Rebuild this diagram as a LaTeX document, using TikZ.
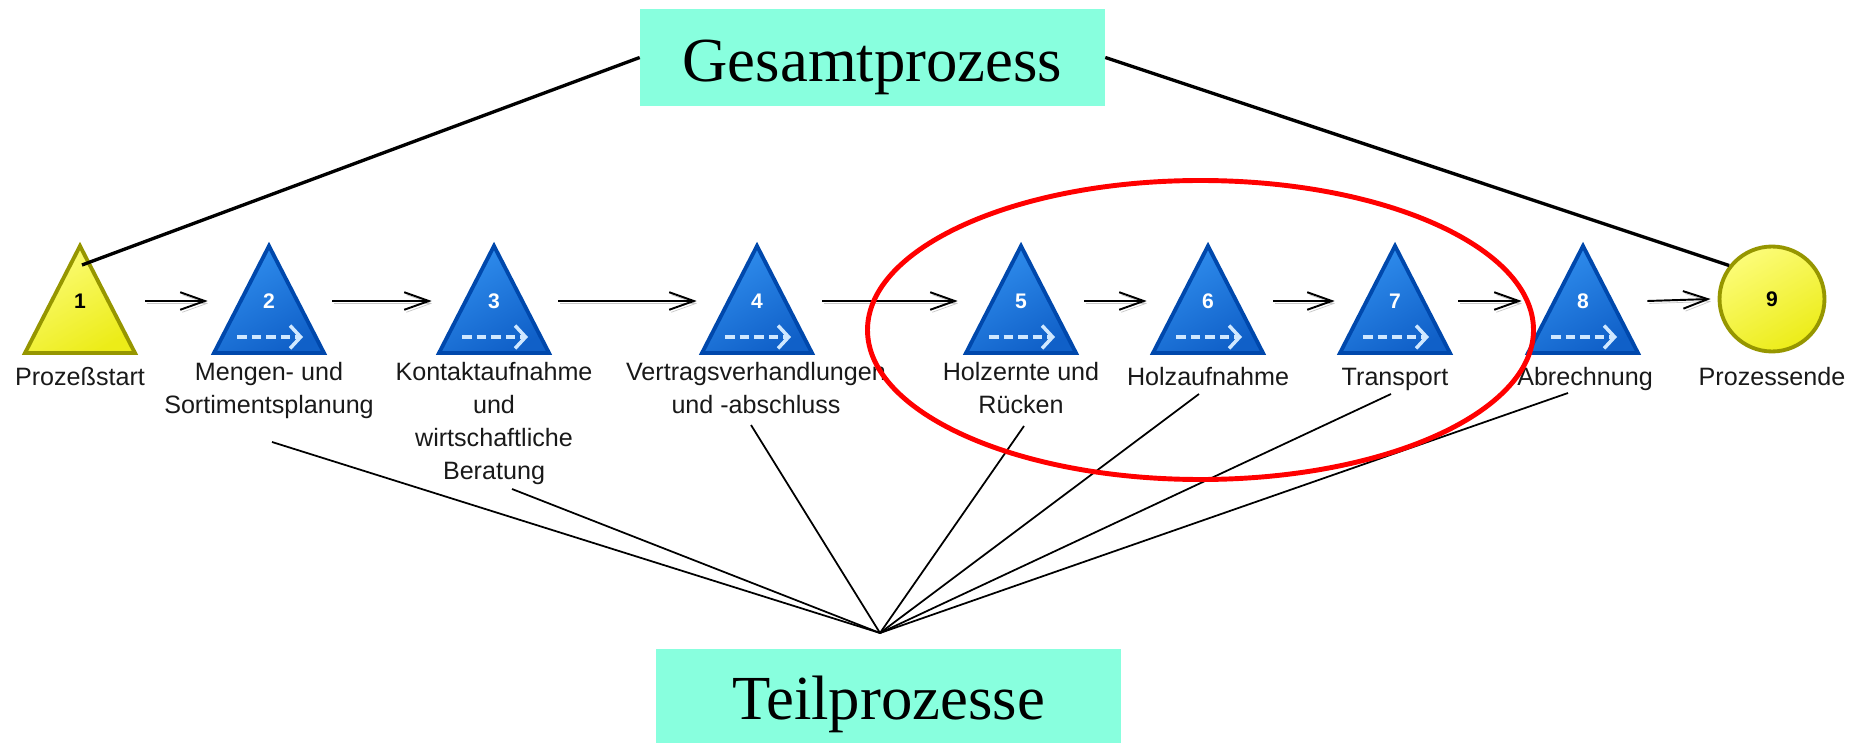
\documentclass[tikz,border=0pt]{standalone}
\usepackage{fontspec}
\setmainfont{Liberation Serif}
\newfontfamily\labfont{Liberation Sans}
\usetikzlibrary{arrows.meta}
\definecolor{aqua}{RGB}{136,255,222}
\definecolor{blueL}{RGB}{48,142,238}
\definecolor{blueD}{RGB}{16,96,200}
\definecolor{blueB}{RGB}{0,72,172}
\definecolor{yelL}{RGB}{252,252,120}
\definecolor{yelD}{RGB}{236,236,24}
\definecolor{oliveB}{RGB}{150,150,0}
\definecolor{dashc}{RGB}{208,232,255}
\definecolor{labc}{RGB}{25,25,25}
\begin{document}
\begin{tikzpicture}[x=0.02cm,y=-0.02cm,
  bigbox/.style={fill=aqua, inner sep=0pt, minimum width=9.3cm,
    font=\fontsize{35.7}{40}\selectfont},
  bluetri/.style={draw=blueB, line width=2.2pt, line join=miter,
    top color=blueL, bottom color=blueD, shading angle=30},
  yeltri/.style={draw=oliveB, line width=2.2pt, line join=miter,
    top color=yelL, bottom color=yelD, shading angle=30},
  dasharrow/.style={draw=dashc, line width=2pt, dash pattern=on 5.5pt off 2.8pt,
    -{Straight Barb[length=6pt,width=13pt,line width=2pt]}},
  procnode/.style={inner sep=0pt, minimum width=2.28cm, minimum height=2.26cm,
    text=white, font=\labfont\bfseries\fontsize{12}{14}\selectfont},
  startnode/.style={procnode, text=black},
  endcircle/.style={circle, draw=oliveB, line width=2.2pt, minimum size=2.1cm,
    inner sep=0pt, top color=yelL, bottom color=yelD, shading angle=30,
    font=\labfont\bfseries\fontsize{12}{14}\selectfont},
  lbl/.style={anchor=north, inner sep=0pt, align=center, text=labc,
    font=\labfont\fontsize{14.3}{18.7}\selectfont, execute at begin node=\strut},
  flow/.style={line width=1.1pt,
    -{Straight Barb[length=14pt,width=10pt,line width=1.1pt]},
    preaction={draw=black!22, transform canvas={shift={(1.2pt,-1.4pt)}}}},
  gline/.style={line width=1.9pt},
  tline/.style={line width=1pt},
  ring/.style={draw=red, line width=2.8pt}
]
\useasboundingbox (0,0) rectangle (1860,743);

% top and bottom boxes
\node[bigbox, minimum height=1.94cm, text height=1.46cm, text depth=0.48cm]
  (G) at (872.5,57.5) {Gesamtprozess};
\node[bigbox, minimum height=1.88cm, text height=1.42cm, text depth=0.46cm]
  (T) at (888.5,696) {Teilprozesse};

% start triangle
\draw[yeltri] (25,353) -- (135,353) -- (80,246) -- cycle;
\node[startnode] (t1) at (80,301) {1};

% process triangles
\foreach \i/\x in {2/269,3/494,4/757,5/1021,6/1208,7/1395,8/1583}{
  \draw[bluetri] (\x-55,353) -- (\x+55,353) -- (\x,246) -- cycle;
  \draw[dasharrow] (\x-32,337) -- (\x+34,337);
  \node[procnode] (t\i) at (\x,301) {\i};
}

% end circle
\node[endcircle] (c9) at (1772,299) {9};

% labels
\node[lbl] (l1) at (80,362) {Prozeßstart};
\node[lbl] (l2) at (269,362) {Mengen- und\\Sortimentsplanung};
\node[lbl] (l3) at (494,362) {Kontaktaufnahme\\und\\wirtschaftliche\\Beratung};
\node[lbl] (l4) at (756,362) {Vertragsverhandlungen\\und -abschluss};
\node[lbl] (l5) at (1021,362) {Holzernte und\\Rücken};
\node[lbl] (l6) at (1208,362) {Holzaufnahme};
\node[lbl] (l7) at (1395,362) {Transport};
\node[lbl] (l8) at (1585,362) {Abrechnung};
\node[lbl] (l9) at (1772,362) {Prozessende};

% flow arrows
\draw[flow] ([xshift=0.16cm]t1.east) -- ([xshift=-0.08cm]t2.west);
\draw[flow] ([xshift=0.12cm]t2.east) -- ([xshift=-0.10cm]t3.west);
\draw[flow] ([xshift=0.14cm]t3.east) -- ([xshift=-0.06cm]t4.west);
\draw[flow] ([xshift=0.16cm]t4.east) -- ([xshift=-0.12cm]t5.west);
\draw[flow] ([xshift=0.12cm]t5.east) -- ([xshift=-0.08cm]t6.west);
\draw[flow] ([xshift=0.16cm]t6.east) -- ([xshift=-0.06cm]t7.west);
\draw[flow] ([xshift=0.12cm]t7.east) -- ([xshift=-0.08cm]t8.west);
\draw[flow] ([xshift=0.14cm]t8.east) -- ([xshift=-0.14cm]c9.west);

% Gesamtprozess lines
\coordinate (g1) at (82,265);
\draw[gline] (G.west) -- (g1);
\draw[gline] (G.east) -- (c9.142);

% Teilprozesse lines
\coordinate (cv) at (880,633);
\coordinate (s2) at (272,442);
\coordinate (s3) at (512,489);
\coordinate (s4) at (751,425);
\coordinate (s5) at (1024,426);
\coordinate (s6) at (1199,394);
\coordinate (s7) at (1391,394);
\coordinate (s8) at (1568,393);
\foreach \s in {s2,s3,s4,s5,s6,s7,s8}{
  \draw[tline] (\s) -- (cv);
}

% red ellipse
\draw[ring] (1200.5,330) ellipse [x radius=333, y radius=149.5];
\end{tikzpicture}
\end{document}
